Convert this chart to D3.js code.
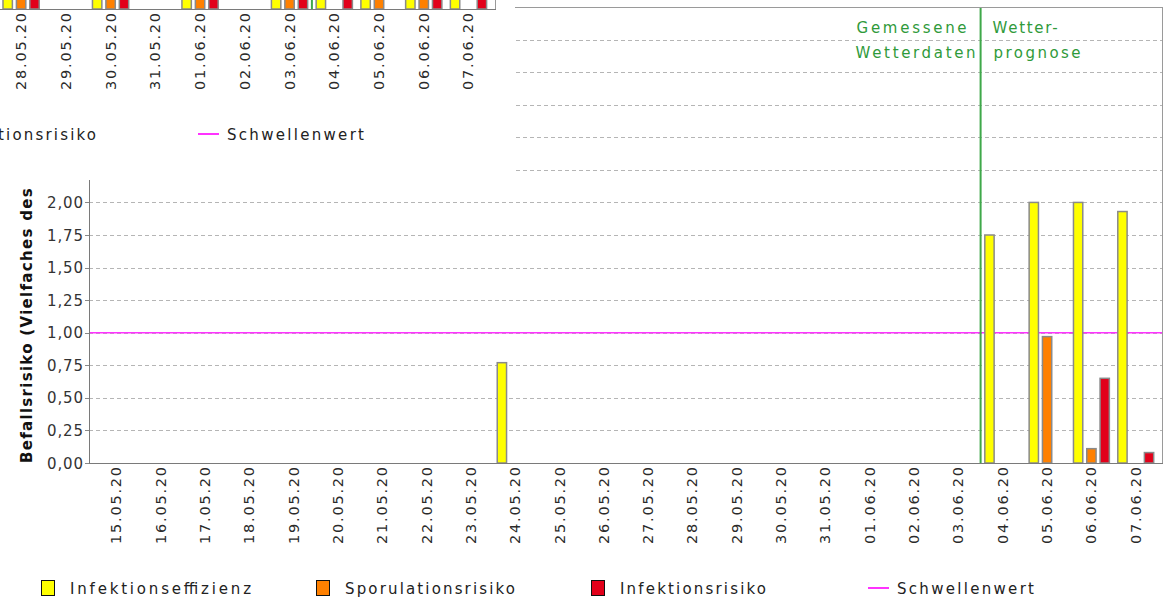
<!DOCTYPE html>
<html>
<head>
<meta charset="utf-8">
<script src="https://cdn.jsdelivr.net/npm/d3@7"></script>
<style>
  html, body { margin: 0; padding: 0; background: #fff; }
  svg { display: block; }
  text { font-family: "DejaVu Sans", "Liberation Sans", sans-serif; }
</style>
</head>
<body>
<svg id="chart" width="1167" height="601"></svg>
<script>
// ---------------- data ----------------
const categories = ["15.05.20","16.05.20","17.05.20","18.05.20","19.05.20","20.05.20","21.05.20","22.05.20","23.05.20","24.05.20","25.05.20","26.05.20","27.05.20","28.05.20","29.05.20","30.05.20","31.05.20","01.06.20","02.06.20","03.06.20","04.06.20","05.06.20","06.06.20","07.06.20"];
const seriesNames = ["Infektionseffizienz","Sporulationsrisiko","Infektionsrisiko"];
const seriesColors = ["#ffff00","#ff8000","#e2001a"];
const infektionseffizienz = [0,0,0,0,0,0,0,0,0,0.77,0,0,0,0,0,0,0,0,0,0,1.75,2.00,2.00,1.93];
const sporulationsrisiko  = [0,0,0,0,0,0,0,0,0,0,0,0,0,0,0,0,0,0,0,0,0,0.97,0.11,0];
const infektionsrisiko    = [0,0,0,0,0,0,0,0,0,0,0,0,0,0,0,0,0,0,0,0,0,0,0.65,0.08];
const schwellenwert = 1.0;
const yTickValues = [0,0.25,0.5,0.75,1,1.25,1.5,1.75,2,2.25,2.5,2.75,3,3.25,3.5];
const yDomain = [0, 3.5];
const measuredLabel = ["Gemessene","Wetterdaten"];
const forecastLabel = ["Wetter-","prognose"];
const forecastStart = "04.06.20";
const yTitle = "Befallsrisiko (Vielfaches des Schwellenwertes)";
const thresholdName = "Schwellenwert";

// second (overlapping) chart fragment, top-left
const ovInfektionseffizienz = [0,0,0,0,0,0,0,0,0,0,0,0,0,0.6,0,0.6,0,0.6,0,0.6,0.6,0.6,0.6,0.6];
const ovSporulationsrisiko  = [0,0,0,0,0,0,0,0,0,0,0,0,0,0.6,0,0.6,0,0.6,0,0.6,0,0.6,0.6,0];
const ovInfektionsrisiko    = [0,0,0,0,0,0,0,0,0,0,0,0,0,0.6,0,0.6,0,0.6,0,0.6,0.6,0,0.6,0.6];

// ---------------- drawing ----------------
const fmt = v => d3.format(".2f")(v).replace(".", ",");
const svg = d3.select("#chart");

function drawChart(g, cfg) {
  const series = cfg.series;
  const x = d3.scaleBand().domain(categories).range([cfg.left, cfg.right])
    .paddingInner(0.19).paddingOuter(0.21);
  const xs = d3.scaleBand().domain(seriesNames).range([0, x.bandwidth()]).paddingInner(0.3);
  const y = d3.scaleLinear().domain(yDomain).range([cfg.bottom, cfg.top]);

  // grid lines
  g.append("g").selectAll("line")
    .data(yTickValues.filter(v => v > 0 && v < yDomain[1]))
    .join("line")
    .attr("x1", cfg.left).attr("x2", cfg.right)
    .attr("y1", d => Math.round(y(d)) + 0.5).attr("y2", d => Math.round(y(d)) + 0.5)
    .attr("stroke", "#b5b5b5").attr("stroke-width", 1).attr("stroke-dasharray", "4,3");

  // threshold line
  g.append("line")
    .attr("x1", cfg.left).attr("x2", cfg.right)
    .attr("y1", y(schwellenwert)).attr("y2", y(schwellenwert))
    .attr("stroke", "#ff33ff").attr("stroke-width", 1.5);

  // divider between measured and forecast
  const i1 = categories.indexOf(forecastStart);
  const divX = (x(categories[i1 - 1]) + x.bandwidth() + x(categories[i1])) / 2;
  g.append("line")
    .attr("x1", divX).attr("x2", divX).attr("y1", cfg.top).attr("y2", cfg.bottom)
    .attr("stroke", "#3fa84a").attr("stroke-width", 2);

  // bars
  const barData = [];
  categories.forEach((c, i) => {
    seriesNames.forEach((s, k) => {
      const v = series[k][i];
      if (v > 0) barData.push({ c, s, k, v });
    });
  });
  g.append("g").selectAll("rect")
    .data(barData)
    .join("rect")
    .attr("x", d => x(d.c) + xs(d.s))
    .attr("width", xs.bandwidth())
    .attr("y", d => y(d.v))
    .attr("height", d => cfg.bottom - y(d.v))
    .attr("fill", d => seriesColors[d.k])
    .attr("stroke", "#8a8a8a").attr("stroke-width", 1.5);

  // plot border
  g.append("rect")
    .attr("x", cfg.left + 0.5).attr("y", cfg.top + 0.5)
    .attr("width", cfg.right - cfg.left - 1).attr("height", cfg.bottom - cfg.top)
    .attr("fill", "none").attr("stroke", "#9a9a9a").attr("stroke-width", 1);
  // axes lines
  g.append("line").attr("x1", cfg.left + 0.5).attr("x2", cfg.left + 0.5)
    .attr("y1", cfg.top).attr("y2", cfg.bottom + 0.5).attr("stroke", "#7a7a7a");
  g.append("line").attr("x1", cfg.left).attr("x2", cfg.right)
    .attr("y1", cfg.bottom + 0.5).attr("y2", cfg.bottom + 0.5).attr("stroke", "#7a7a7a");

  // y axis ticks + labels
  const yAxis = g.append("g");
  yAxis.selectAll("line").data(yTickValues).join("line")
    .attr("x1", cfg.left - 4).attr("x2", cfg.left)
    .attr("y1", d => Math.round(y(d)) + 0.5).attr("y2", d => Math.round(y(d)) + 0.5)
    .attr("stroke", "#888");
  yAxis.selectAll("text").data(yTickValues).join("text")
    .attr("x", cfg.left - 6).attr("y", d => y(d) + 5.5)
    .attr("text-anchor", "end").attr("font-size", 15).attr("fill", "#333")
    .attr("textLength", 36).attr("lengthAdjust", "spacing")
    .text(d => fmt(d));

  // y title
  g.append("text")
    .attr("transform", `translate(${cfg.left - 57},${cfg.bottom}) rotate(-90)`)
    .attr("text-anchor", "start").attr("font-size", 15).attr("font-weight", "bold")
    .attr("letter-spacing", 1.3)
    .attr("fill", "#111")
    .text(yTitle);

  // x labels
  g.append("g").selectAll("text").data(categories).join("text")
    .attr("transform", d => `translate(${x(d) + x.bandwidth() / 2 + 5},${cfg.bottom + 4}) rotate(-90)`)
    .attr("text-anchor", "end").attr("font-size", 14.5).attr("fill", "#2a2a2a")
    .attr("textLength", 77).attr("lengthAdjust", "spacing")
    .text(d => d);

  // measured / forecast labels
  const lab = g.append("g").attr("fill", "#2f9a3a").attr("font-size", 15);
  lab.append("text").attr("x", divX - 124).attr("y", cfg.top + 26)
    .attr("textLength", 110).attr("lengthAdjust", "spacing").text(measuredLabel[0]);
  lab.append("text").attr("x", divX - 125).attr("y", cfg.top + 51)
    .attr("textLength", 120).attr("lengthAdjust", "spacing").text(measuredLabel[1]);
  lab.append("text").attr("x", divX + 12).attr("y", cfg.top + 26)
    .attr("textLength", 65).attr("lengthAdjust", "spacing").text(forecastLabel[0]);
  lab.append("text").attr("x", divX + 13).attr("y", cfg.top + 51)
    .attr("textLength", 87).attr("lengthAdjust", "spacing").text(forecastLabel[1]);

  // legend
  const legendX = [41, 316, 591, 868];
  const legendW = [181, 170, 146, 137];
  const lg = g.append("g");
  seriesNames.forEach((s, k) => {
    lg.append("rect").attr("x", legendX[k] + 0.5).attr("y", cfg.bottom + 117.5)
      .attr("width", 13).attr("height", 15)
      .attr("fill", seriesColors[k]).attr("stroke", "#111").attr("stroke-width", 1);
    lg.append("text").attr("x", legendX[k] + 29).attr("y", cfg.bottom + 131)
      .attr("font-size", 15).attr("fill", "#222")
      .attr("textLength", legendW[k]).attr("lengthAdjust", "spacing").text(s);
  });
  lg.append("line").attr("x1", legendX[3]).attr("x2", legendX[3] + 21)
    .attr("y1", cfg.bottom + 125).attr("y2", cfg.bottom + 125)
    .attr("stroke", "#ff33ff").attr("stroke-width", 2);
  lg.append("text").attr("x", legendX[3] + 29).attr("y", cfg.bottom + 131)
    .attr("font-size", 15).attr("fill", "#222")
    .attr("textLength", legendW[3]).attr("lengthAdjust", "spacing").text(thresholdName);
}

// main chart
drawChart(svg.append("g"), {
  left: 89, right: 1163, top: 7, bottom: 463,
  series: [infektionseffizienz, sporulationsrisiko, infektionsrisiko]
});

// overlapping fragment of a second chart (top-left)
svg.append("defs").append("clipPath").attr("id", "ovclip")
  .append("rect").attr("x", 0).attr("y", 0).attr("width", 515).attr("height", 180);
const ov = svg.append("g").attr("clip-path", "url(#ovclip)");
ov.append("rect").attr("x", 0).attr("y", 0).attr("width", 515).attr("height", 180).attr("fill", "#fff");
drawChart(ov.append("g").attr("transform", "translate(-670,-454)"), {
  left: 82, right: 1166, top: 7, bottom: 463,
  series: [ovInfektionseffizienz, ovSporulationsrisiko, ovInfektionsrisiko]
});
</script>
</body>
</html>
